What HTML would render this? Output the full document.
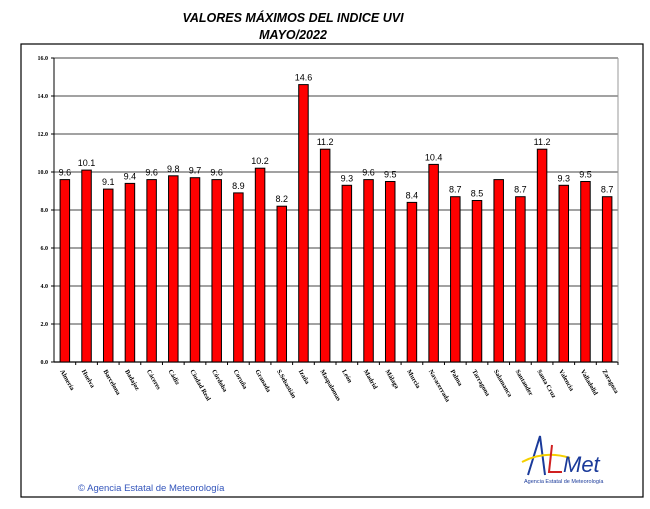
<!DOCTYPE html>
<html><head><meta charset="utf-8"><style>
body{margin:0;background:#fff;width:650px;height:509px;overflow:hidden}
svg{display:block}
</style></head><body>
<svg id="chart" width="650" height="509" xmlns="http://www.w3.org/2000/svg">
<text x="293" y="22" text-anchor="middle" font-family="Liberation Sans, sans-serif" font-size="12.5" font-weight="bold" font-style="italic">VALORES MÁXIMOS DEL INDICE UVI</text>
<text x="293" y="39" text-anchor="middle" font-family="Liberation Sans, sans-serif" font-size="12.5" font-weight="bold" font-style="italic">MAYO/2022</text>
<rect x="21" y="44" width="622" height="453" fill="none" stroke="#000" stroke-width="1.2"/>
<g id="plot"></g>
<text x="78" y="491" font-family="Liberation Sans, sans-serif" font-size="9.5" fill="#3355bb">© Agencia Estatal de Meteorología</text>
<g>
<path d="M528 475 L540 436 L545 475" fill="none" stroke="#1a3a9a" stroke-width="2"/>
<path d="M522 462 Q545 450 570 458" fill="none" stroke="#f5d000" stroke-width="2"/>
<path d="M552 445 L549 472 L562 472" fill="none" stroke="#d02020" stroke-width="2"/>
<text x="563" y="472" font-family="Liberation Sans, sans-serif" font-size="22" font-style="italic" fill="#1a3a9a">Met</text>
<text x="524" y="483" font-family="Liberation Sans, sans-serif" font-size="5.5" fill="#1a3a9a">Agencia Estatal de Meteorología</text>
</g>
</svg>
<script>
const categories=["Almería","Huelva","Barcelona","Badajoz","Cáceres","Cádiz","Ciudad Real","Córdoba","Coruña","Granada","S.Sebastián","Izaña","Maspalomas","León","Madrid","Málaga","Murcia","Navacerrada","Palma","Tarragona","Salamanca","Santander","Santa Cruz","Valencia","Valladolid","Zaragoza"];
const values=[9.6,10.1,9.1,9.4,9.6,9.8,9.7,9.6,8.9,10.2,8.2,14.6,11.2,9.3,9.6,9.5,8.4,10.4,8.7,8.5,9.6,8.7,11.2,9.3,9.5,8.7];
const showLabel=[1,1,1,1,1,1,1,1,1,1,1,1,1,1,1,1,1,1,1,1,0,1,1,1,1,1];
const yTicks=[0,2,4,6,8,10,12,14,16];
const NS="http://www.w3.org/2000/svg";
const X0=54,X1=618,Y0=362,Y1=58,YMAX=16;
const y=v=>Y0-(v/YMAX)*(Y0-Y1);
const step=(X1-X0)/categories.length;
const xc=i=>X0+step*(i+0.5);
const g=document.getElementById('plot');
function mk(t,a){const e=document.createElementNS(NS,t);for(const k in a)e.setAttribute(k,a[k]);g.appendChild(e);return e;}
yTicks.forEach(t=>{
 const l=mk('line',{x1:X0,x2:X1,y1:y(t),y2:y(t),stroke:t===0?'#000':'#444','stroke-width':t===0?1.2:1});
 
 
 const tk=mk('line',{x1:X0-3,x2:X0,y1:y(t),y2:y(t),stroke:'#000'});
 
 
 const tx=mk('text',{x:X0-6,y:y(t)+2,'text-anchor':'end','font-family':'Liberation Serif, serif','font-size':'6','font-weight':'bold'});
 tx.textContent=t.toFixed(1);
 
 
});
const pr=mk('line',{x1:X1,x2:X1,y1:Y1,y2:Y0,stroke:'#999'});


const ax=mk('line',{x1:X0,x2:X0,y1:Y1,y2:Y0,stroke:'#000'});


categories.forEach((c,i)=>{
 const bw=9.5;
 const b=mk('rect',{x:xc(i)-bw/2,y:y(values[i]),width:bw,height:Y0-y(values[i]),fill:'#ff0000',stroke:'#000','stroke-width':1});
 
 
 const tk=mk('line',{x1:X0+step*(i+1),x2:X0+step*(i+1),y1:Y0,y2:Y0+3,stroke:'#000'});
 
 
 if(showLabel[i]){
  const v=mk('text',{x:xc(i),y:y(values[i])-4,'text-anchor':'middle','font-family':'Liberation Sans, sans-serif','font-size':'9'});
  v.textContent=values[i].toFixed(1);
  
  
 }
 const lx=xc(i)-5,ly=Y0+9;
 const t=mk('text',{x:lx,y:ly,transform:`rotate(60 ${lx} ${ly})`,'font-family':'Liberation Serif, serif','font-size':'6.5','font-weight':'bold'});
 t.textContent=c;
 
 
});
</script>
</body></html>
